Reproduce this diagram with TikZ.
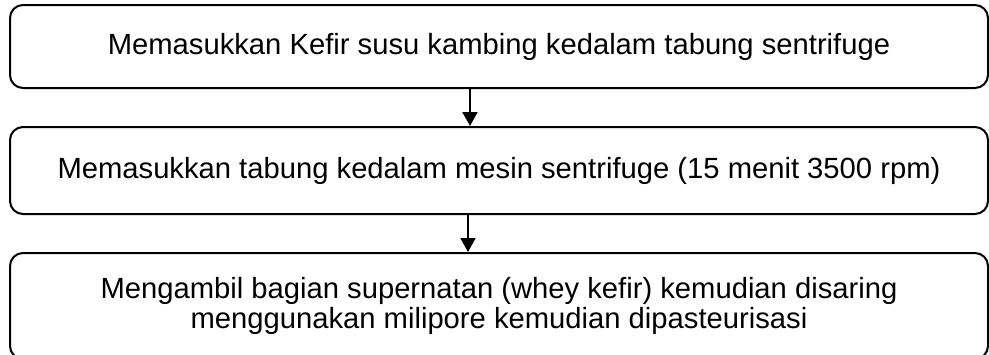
\documentclass[tikz,border=0pt]{standalone}
\usepackage{fontspec}
\setmainfont{Liberation Sans}
\usetikzlibrary{arrows.meta}
\begin{document}
\begin{tikzpicture}[x=1pt,y=-1pt,
  stepbox/.style={draw=black, line width=2pt, rounded corners=13pt,
    minimum width=978pt, inner sep=0pt, align=center,
    font=\fontsize{29.2}{30}\selectfont},
  flow/.style={draw=black, line width=2pt,
    -{Triangle[width=15pt,length=14pt]}}]
  \useasboundingbox (0,0) rectangle (989,354);
  \node[stepbox, minimum height=83pt] (b1) at (499,46.5)
    {Memasukkan Kefir susu kambing kedalam tabung sentrifuge};
  \node[stepbox, minimum height=87pt] (b2) at (499,170.5)
    {Memasukkan tabung kedalam mesin sentrifuge (15 menit 3500 rpm)};
  \node[stepbox, minimum height=106pt] (b3) at (499,306)
    {Mengambil bagian supernatan (whey kefir) kemudian disaring\\
     menggunakan milipore kemudian dipasteurisasi};
  \coordinate (a1) at (470,0);
  \coordinate (a2) at (468,0);
  \draw[flow] (b1.south -| a1) -- (b2.north -| a1);
  \draw[flow] (b2.south -| a2) -- (b3.north -| a2);
\end{tikzpicture}
\end{document}
